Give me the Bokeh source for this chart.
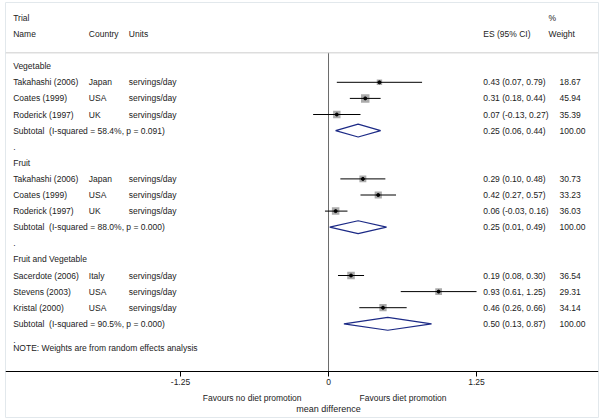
import math
from bokeh.plotting import figure
from bokeh.models import Range1d, FixedTicker, Span, ColumnDataSource, CustomJSTickFormatter
from bokeh.core.properties import value
from bokeh.embed import file_html
from bokeh.resources import INLINE

# ---------------- data ----------------
groups = ["Vegetable", "Fruit", "Fruit and Vegetable"]
study_names = [
    ["Takahashi (2006)", "Coates (1999)", "Roderick (1997)"],
    ["Takahashi (2006)", "Coates (1999)", "Roderick (1997)"],
    ["Sacerdote (2006)", "Stevens (2003)", "Kristal (2000)"],
]
countries = [
    ["Japan", "USA", "UK"],
    ["Japan", "USA", "UK"],
    ["Italy", "USA", "USA"],
]
unit_label = "servings/day"
es = [[0.43, 0.31, 0.07], [0.29, 0.42, 0.06], [0.19, 0.93, 0.46]]
ci_lo = [[0.07, 0.18, -0.13], [0.10, 0.27, -0.03], [0.08, 0.61, 0.26]]
ci_hi = [[0.79, 0.44, 0.27], [0.48, 0.57, 0.16], [0.30, 1.25, 0.66]]
weights = [[18.67, 45.94, 35.39], [30.73, 33.23, 36.03], [36.54, 29.31, 34.14]]
sub_es = [0.25, 0.25, 0.50]
sub_lo = [0.06, 0.01, 0.13]
sub_hi = [0.44, 0.49, 0.87]
i_squared = ["58.4%", "88.0%", "90.5%"]
p_values = ["0.091", "0.000", "0.000"]
x_ticks = [-1.25, 0, 1.25]
x_title = "mean difference"
left_note = "Favours no diet promotion"
right_note = "Favours diet promotion"

# ---------------- layout constants ----------------
FONT = "Liberation Sans"
FS = "8.5px"
TXT = "#222222"
COL_NAME = -2.663
COL_COUNTRY = -2.024
COL_UNITS = -1.687
COL_ES = 1.307
COL_W = 1.951
COL_WHEAD = 1.858
NAVY = "#1c2a86"
AXIS_ROW = 18.96

p = figure(width=600, height=419, output_backend="svg", toolbar_location=None,
           x_range=Range1d(-2.728, 2.280), y_range=Range1d(21.82, -3.957),
           y_axis_location=None, min_border_left=5, min_border_right=2,
           min_border_top=2, min_border_bottom=2)
p.grid.visible = False
p.outline_line_color = "#e2e8ec"
p.outline_line_width = 1
p.background_fill_color = "white"
p.border_fill_color = "white"

# text table
tx, ty, tt = [], [], []
def add(x, y, t):
    tx.append(x); ty.append(y); tt.append(t)

add(COL_NAME, -2.98, "Trial")
add(COL_NAME, -1.99, "Name")
add(COL_COUNTRY, -1.99, "Country")
add(COL_UNITS, -1.99, "Units")
add(COL_ES, -1.99, "ES (95% CI)")
add(COL_WHEAD, -2.98, "%")
add(COL_WHEAD, -1.99, "Weight")

mx, my, msz = [], [], []
sx0, sx1, sy = [], [], []
dxs, dys = [], []
for g, grp in enumerate(groups):
    base = 6 * g
    add(COL_NAME, base, grp)
    for k in range(3):
        r = base + 1 + k
        add(COL_NAME, r, study_names[g][k])
        add(COL_COUNTRY, r, countries[g][k])
        add(COL_UNITS, r, unit_label)
        add(COL_ES, r, f"{es[g][k]:.2f} ({ci_lo[g][k]:.2f}, {ci_hi[g][k]:.2f})")
        add(COL_W, r, f"{weights[g][k]:.2f}")
        mx.append(es[g][k]); my.append(r); msz.append(1.25 * math.sqrt(weights[g][k]))
        sx0.append(ci_lo[g][k]); sx1.append(ci_hi[g][k]); sy.append(r)
    rs = base + 4
    add(COL_NAME, rs, f"Subtotal\u00a0 (I-squared = {i_squared[g]}, p = {p_values[g]})")
    add(COL_ES, rs, f"{sub_es[g]:.2f} ({sub_lo[g]:.2f}, {sub_hi[g]:.2f})")
    add(COL_W, rs, "100.00")
    dxs.append([sub_lo[g], sub_es[g], sub_hi[g], sub_es[g]])
    dys.append([rs, rs - 0.40, rs, rs + 0.40])
    add(COL_NAME, base + 5, ".")
add(COL_NAME, 17.53, "NOTE: Weights are from random effects analysis")

# header separator
p.add_layout(Span(location=-0.83, dimension="width", line_color="#cccccc", line_width=1))
# zero line
p.segment(x0=[0], y0=[-0.83], x1=[0], y1=[AXIS_ROW], line_color="#6a6a6a", line_width=1)

# study boxes, CIs, points
p.scatter(x=mx, y=my, size=msz, marker="square", fill_color="#ababab", line_color=None)
p.segment(x0=sx0, y0=sy, x1=sx1, y1=sy, line_color="black", line_width=1)
p.scatter(x=mx, y=my, size=3, marker="circle", fill_color="black", line_color="black")
# subtotal diamonds
p.patches(xs=dxs, ys=dys, fill_color=None, line_color=NAVY, line_width=1.2)

src = ColumnDataSource(dict(x=tx, y=ty, t=tt))
p.text(x="x", y="y", text="t", source=src, text_font=value(FONT), text_font_size=FS,
       text_baseline="middle", text_align="left", text_color=TXT)

# bottom annotations (inside the frame, below the axis)
p.text(x=[-0.228], y=[20.58], text=[left_note], text_font=value(FONT), text_font_size=FS,
       text_baseline="middle", text_align="right", text_color=TXT)
p.text(x=[0.262], y=[20.58], text=[right_note], text_font=value(FONT), text_font_size=FS,
       text_baseline="middle", text_align="left", text_color=TXT)
p.text(x=[0], y=[21.32], text=[x_title], text_font=value(FONT), text_font_size="9px",
       text_baseline="middle", text_align="center", text_color=TXT)

# axis drawn at a fixed location inside the frame
ax = p.xaxis[0]
ax.fixed_location = AXIS_ROW
ax.ticker = FixedTicker(ticks=x_ticks)
ax.formatter = CustomJSTickFormatter(code="return tick == 0 ? '0' : tick.toFixed(2);")
ax.axis_line_color = "black"
ax.axis_line_width = 1.2
ax.major_tick_line_color = "black"
ax.major_tick_out = 5
ax.major_tick_in = 0
ax.minor_tick_line_color = None
ax.major_label_standoff = 3
ax.major_label_text_font = FONT
ax.major_label_text_font_size = FS
ax.major_label_text_color = TXT

open("out.html", "w").write(file_html(p, INLINE))
